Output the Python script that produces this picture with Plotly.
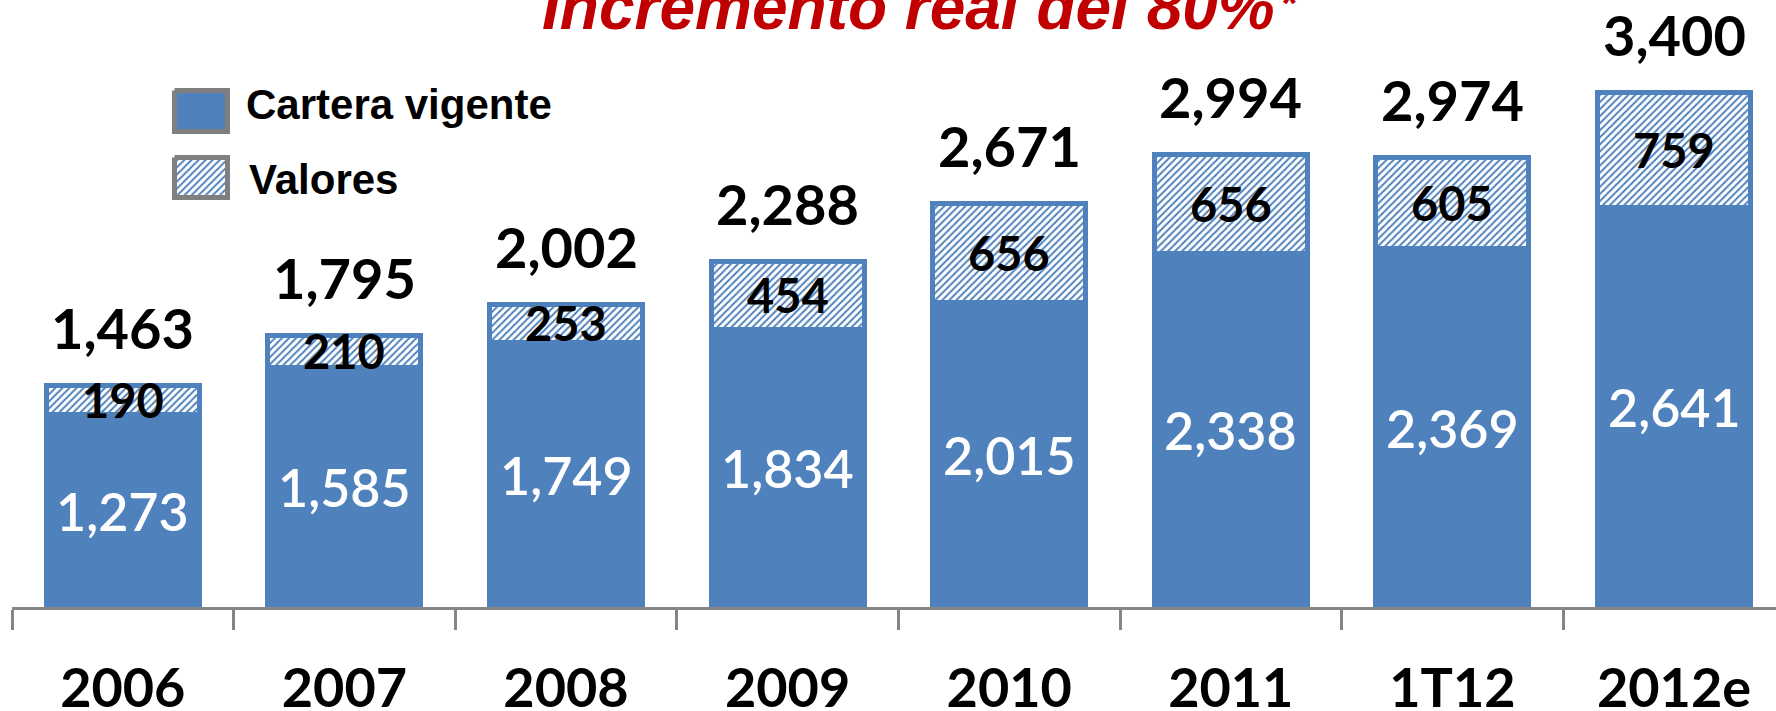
import plotly.graph_objects as go

categories = ["2006", "2007", "2008", "2009", "2010", "2011", "1T12", "2012e"]
cartera = [1273, 1585, 1749, 1834, 2015, 2338, 2369, 2641]
valores = [190, 210, 253, 454, 656, 656, 605, 759]
totales = [1463, 1795, 2002, 2288, 2671, 2994, 2974, 3400]

title_text = "Incremento real del 80%"
title_mark = "*"
legend_names = ["Cartera vigente", "Valores"]

W, H = 1776, 711
L, R, T, B = 12, 0, 0, 104
BLUE = "#4F81BD"
GRAY = "#868686"
LGRAY = "#7F7F7F"
RED = "#C00000"
NUMFONT = "Lato"
TXTFONT = "Liberation Sans"

pattern = dict(shape="/", fgcolor=BLUE, bgcolor="white", size=5, solidity=0.4, fillmode="replace")

fig = go.Figure()
fig.add_trace(go.Bar(
    x=categories, y=cartera, width=0.69,
    marker=dict(color=BLUE, line=dict(color=BLUE, width=5)),
    showlegend=False, hoverinfo="skip"))
fig.add_trace(go.Bar(
    x=categories, y=valores, width=0.69,
    marker=dict(color="white", line=dict(color=BLUE, width=5), pattern=pattern),
    showlegend=False, hoverinfo="skip"))

# legend swatches drawn on a pixel-space overlay axis
sw_x = [174.5, 227.5, 227.5, 174.5, 174.5]
sw1_y = [90.5, 90.5, 131.5, 131.5, 90.5]
sw2_y = [157.5, 157.5, 197.5, 197.5, 157.5]
fig.add_trace(go.Scatter(
    x=sw_x, y=sw1_y, xaxis="x2", yaxis="y2", mode="lines", fill="toself",
    fillcolor=BLUE, line=dict(color=LGRAY, width=5), showlegend=False, hoverinfo="skip"))
fig.add_trace(go.Scatter(
    x=sw_x, y=sw2_y, xaxis="x2", yaxis="y2", mode="lines", fill="toself",
    fillcolor="white", fillpattern=pattern, line=dict(color=LGRAY, width=5),
    showlegend=False, hoverinfo="skip"))

annotations = []
for i, (cv, v, t) in enumerate(zip(cartera, valores, totales)):
    annotations.append(dict(x=i, y=cv / 2, text=f"{cv:,}", showarrow=False,
                            font=dict(family=NUMFONT, size=52, color="white", weight=600),
                            xanchor="center", yanchor="middle"))
    annotations.append(dict(x=i, y=cv + v / 2, text=f"{v:,}", showarrow=False,
                            font=dict(family=NUMFONT, size=47, color="black", weight="bold"),
                            xanchor="center", yanchor="middle"))
    annotations.append(dict(x=i, y=t, text=f"{t:,}", showarrow=False, yshift=58,
                            font=dict(family=NUMFONT, size=56, color="black", weight="bold"),
                            xanchor="center", yanchor="middle"))

annotations.append(dict(xref="x2", yref="y2", x=244, y=104, text=legend_names[0], showarrow=False,
                        xanchor="left", yanchor="middle",
                        font=dict(family=TXTFONT, size=42, color="black", weight="bold")))
annotations.append(dict(xref="x2", yref="y2", x=247, y=179, text=legend_names[1], showarrow=False,
                        xanchor="left", yanchor="middle",
                        font=dict(family=TXTFONT, size=42, color="black", weight="bold")))
annotations.append(dict(xref="x2", yref="y2", x=540, y=7, text=title_text, showarrow=False,
                        xanchor="left", yanchor="middle",
                        font=dict(family=TXTFONT, size=64, color=RED, weight="bold", style="italic")))
annotations.append(dict(xref="x2", yref="y2", x=1278, y=3, text=title_mark, showarrow=False,
                        xanchor="left", yanchor="middle",
                        font=dict(family=TXTFONT, size=40, color=RED, weight="bold", style="italic")))

fig.update_layout(
    width=W, height=H,
    margin=dict(l=L, r=R, t=T, b=B, pad=0, autoexpand=False),
    paper_bgcolor="white", plot_bgcolor="white",
    barmode="stack", bargap=0.31,
    showlegend=False,
    xaxis=dict(type="category", range=[-0.5, -0.5 + (W - L) / 221.6], automargin=False,
               showline=True, linecolor=GRAY, linewidth=3,
               ticks="outside", tickson="boundaries", ticklen=20, tickwidth=3, tickcolor=GRAY,
               tickfont=dict(family=NUMFONT, size=54, color="black", weight="bold"),
               ticklabelstandoff=32,
               showgrid=False, zeroline=False, fixedrange=True),
    yaxis=dict(range=[0, (H - B - T) / 0.1512], visible=False, showgrid=False, zeroline=False,
               fixedrange=True, automargin=False),
    xaxis2=dict(overlaying="x", anchor="y2", range=[L, W], visible=False, fixedrange=True),
    yaxis2=dict(overlaying="y", anchor="x2", range=[H - B, T], visible=False, fixedrange=True),
    annotations=annotations,
)

fig.write_html("out.html", config={"displayModeBar": False},
               post_script="document.body.style.margin='0';document.body.style.overflow='hidden';")
